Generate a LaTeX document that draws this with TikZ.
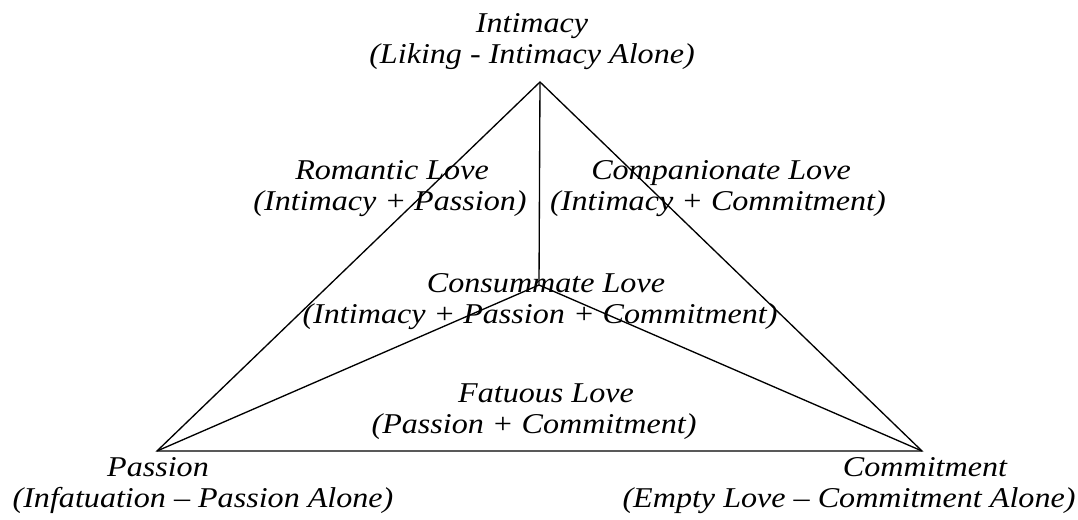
\documentclass[tikz,border=0pt]{standalone}
\usepackage{fontspec}
\setmainfont{Liberation Serif}[FakeStretch=1.12]
\begin{document}
\begin{tikzpicture}[x=0.75pt,y=-0.75pt]
			\tikzset{
				label/.style={font=\fontsize{21.5}{23}\selectfont\itshape, anchor=base, inner sep=0},
				edge/.style={line width=1pt, line join=miter},
			}
			\useasboundingbox (0,0) rectangle (1078,519);
			% corners of the triangle
			\coordinate (top) at (540,82);
			\coordinate (left) at (157,451);
			\coordinate (right) at (922,451);
			\coordinate (mid) at (539,285);
			\draw[edge] (top) -- (left) -- (right) -- cycle;
			\draw[edge] (top) -- (mid);
			\draw[edge] (mid) -- (left);
			\draw[edge] (mid) -- (right);
			% texts, one node per line
			\node[label] (intimacy) at (532,32) {Intimacy};
			\node[label] (liking) at (532,63) {(Liking - Intimacy Alone)};
			\node[label] (romantic) at (392,179) {Romantic Love};
			\node[label] (romanticsum) at (390,210) {(Intimacy + Passion)};
			\node[label] (companion) at (721,179) {Companionate Love};
			\node[label] (companionsum) at (718,210) {(Intimacy + Commitment)};
			\node[label] (consummate) at (546,292) {Consummate Love};
			\node[label] (consummatesum) at (540,323) {(Intimacy + Passion + Commitment)};
			\node[label] (fatuous) at (546,402) {Fatuous Love};
			\node[label] (fatuoussum) at (534,433) {(Passion + Commitment)};
			\node[label] (passion) at (158,476) {Passion};
			\node[label] (infatuation) at (203,507) {(Infatuation -- Passion Alone)};
			\node[label] (commitment) at (925,476) {Commitment};
			\node[label] (empty) at (849,507) {(Empty Love -- Commitment Alone)};
		\end{tikzpicture}
\end{document}
